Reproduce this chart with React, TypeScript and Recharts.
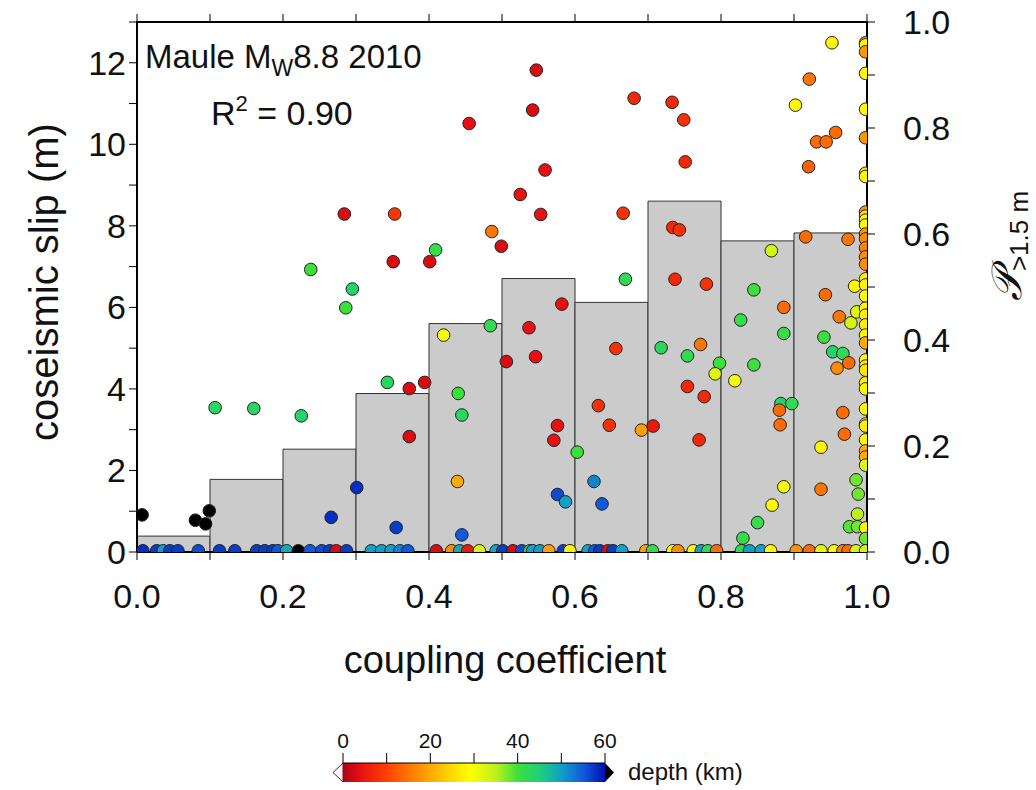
import React from "react"
import { ComposedChart, Bar, Scatter, XAxis, YAxis } from "recharts"

// histogram of P(slip > 1.5 m) per coupling bin (right axis)
const binLabels = ["0.0", "0.1", "0.2", "0.3", "0.4", "0.5", "0.6", "0.7", "0.8", "0.9"]
const binProb = [0.03, 0.137, 0.194, 0.299, 0.431, 0.516, 0.471, 0.662, 0.587, 0.602]

// points with slip > 0
const slipCoupling = [
  0.455, 0.284, 0.353, 0.486, 0.499, 0.409, 0.351, 0.401, 0.238, 0.295, 0.286, 0.107, 0.16, 0.225, 0.343,
  0.373, 0.394, 0.373, 0.42, 0.484, 0.44, 0.445, 0.439, 0.445, 0.506, 0.301, 0.266, 0.355, 0.007, 0.08,
  0.094, 0.099, 0.547, 0.542, 0.681, 0.733, 0.749, 0.751, 0.559, 0.525, 0.553, 0.666, 0.734, 0.743, 0.669,
  0.737, 0.78, 0.869, 0.952, 0.921, 0.902, 0.957, 0.931, 0.944, 0.92, 0.916, 0.974, 0.983, 0.582, 0.537,
  0.546, 0.656, 0.632, 0.647, 0.576, 0.571, 0.603, 0.691, 0.707, 0.576, 0.587, 0.626, 0.637, 0.845, 0.886,
  0.943, 0.827, 0.886, 0.941, 0.962, 0.978, 0.986, 0.718, 0.754, 0.772, 0.798, 0.792, 0.819, 0.845, 0.953,
  0.967, 0.975, 0.959, 0.754, 0.777, 0.77, 0.882, 0.897, 0.88, 0.881, 0.967, 0.969, 0.937, 0.937, 0.886,
  0.87, 0.85, 0.83, 0.985, 0.988, 0.987, 0.976, 0.987,
]
const slipValue = [
  10.51, 8.29, 8.29, 7.86, 7.5, 7.41, 7.12, 7.12, 6.93, 6.45, 5.99, 3.54, 3.52, 3.34, 4.16,
  4.01, 4.16, 2.83, 5.32, 5.55, 3.89, 3.36, 1.73, 0.42, 4.67, 1.58, 0.85, 0.6, 0.91, 0.78,
  0.69, 1.01, 11.82, 10.84, 11.13, 11.03, 10.6, 9.57, 9.37, 8.77, 8.28, 8.31, 7.96, 7.9, 6.69,
  6.69, 6.57, 7.39, 12.49, 11.6, 10.96, 10.29, 10.06, 10.06, 9.45, 7.73, 7.67, 6.52, 6.08, 5.5,
  4.79, 4.99, 3.59, 3.11, 3.1, 2.74, 2.45, 2.99, 3.09, 1.41, 1.23, 1.73, 1.18, 6.43, 6.0,
  6.31, 5.69, 5.36, 5.27, 5.77, 5.62, 5.89, 5.01, 4.81, 5.09, 4.63, 4.37, 4.2, 4.59, 4.91,
  4.87, 4.64, 4.51, 4.06, 3.81, 2.75, 3.64, 3.64, 3.48, 3.12, 3.42, 2.89, 2.57, 1.54, 1.6,
  1.15, 0.72, 0.34, 1.77, 1.42, 0.93, 0.62, 0.62,
]
const slipDepth = [
  4, 3, 9, 15, 3, 41, 3, 3, 40, 44, 40, 43, 43, 44, 43,
  3, 3, 3, 30, 42, 40, 43, 20, 55, 3, 58, 58, 57, 70, 70,
  70, 70, 3, 3, 7, 7, 8, 7, 4, 4, 4, 8, 7, 8, 42,
  7, 8, 33, 28, 15, 28, 14, 14, 14, 13, 14, 15, 28, 4, 4,
  4, 8, 8, 8, 4, 4, 40, 19, 5, 56, 50, 52, 55, 40, 14,
  14, 41, 41, 40, 15, 33, 32, 43, 42, 15, 40, 32, 30, 40, 44,
  42, 14, 17, 7, 7, 7, 44, 42, 14, 14, 14, 14, 28, 15, 30,
  28, 41, 41, 38, 38, 35, 39, 38,
]

// column of points at full coupling
const edgeSlip = [
  12.49, 12.44, 12.27, 11.74, 10.86, 10.16, 9.29, 9.21, 8.34, 8.24, 8.14, 8.02, 7.8, 7.68, 7.46, 7.24, 7.06,
  6.7, 6.55, 6.28, 5.98, 5.81, 5.57, 5.32, 5.13, 4.71, 4.56, 4.46, 4.15, 4.0, 3.51, 3.14, 3.09, 2.75, 2.48,
  2.33, 2.13, 0.59, 0.33,
]
const edgeDepth = [
  20, 28, 18, 28, 28, 18, 26, 28, 18, 26, 28, 29, 18, 17, 16, 17, 17,
  27, 28, 28, 28, 27, 27, 28, 20, 28, 27, 26, 27, 28, 28, 28, 27, 28, 20,
  20, 32, 28, 38,
]

// points with zero slip
const zeroCoupling = [
  0.008, 0.027, 0.036, 0.045, 0.056, 0.084, 0.113, 0.134, 0.164, 0.175, 0.186, 0.193, 0.205, 0.221, 0.237,
  0.253, 0.264, 0.273, 0.287, 0.321, 0.335, 0.348, 0.36, 0.371, 0.41, 0.431, 0.442, 0.453, 0.469, 0.492,
  0.501, 0.515, 0.527, 0.538, 0.542, 0.552, 0.564, 0.584, 0.593, 0.618, 0.627, 0.634, 0.645, 0.652, 0.664,
  0.697, 0.706, 0.734, 0.741, 0.762, 0.773, 0.782, 0.794, 0.828, 0.839, 0.855, 0.868, 0.903, 0.921, 0.937,
  0.955, 0.967, 0.974, 0.985, 0.998,
]
const zeroDepth = [
  58, 57, 50, 57, 57, 56, 57, 57, 57, 57, 57, 55, 49, 70, 55,
  56, 57, 3, 57, 50, 50, 50, 52, 55, 3, 17, 49, 5, 33, 49,
  57, 3, 56, 42, 50, 50, 19, 57, 28, 50, 55, 57, 3, 57, 50,
  19, 42, 28, 17, 28, 50, 42, 14, 42, 50, 50, 28, 18, 14, 32,
  28, 16, 14, 33, 33,
]

const xTicks = [0, 0.1, 0.2, 0.3, 0.4, 0.5, 0.6, 0.7, 0.8, 0.9, 1]
const slipTicks = [0, 1, 2, 3, 4, 5, 6, 7, 8, 9, 10, 11, 12, 13]
const depthTicks = [0, 10, 20, 30, 40, 50, 60]

const font = "'Liberation Sans', Arial, sans-serif"

// plot frame (pixels)
const plotLeft = 137
const plotRight = 867
const plotTop = 22

const colorStops: [number, number[]][] = [
  [0, [176, 0, 24]],
  [4, [232, 16, 16]],
  [10, [255, 64, 0]],
  [17, [255, 140, 0]],
  [23, [255, 200, 0]],
  [29, [255, 255, 0]],
  [35, [190, 240, 30]],
  [40, [60, 224, 60]],
  [45, [30, 208, 120]],
  [50, [16, 160, 200]],
  [55, [16, 90, 220]],
  [60, [0, 16, 176]],
]

function depthColor(d: number) {
  if (d > 60) return "#000"
  for (let i = 1; i < colorStops.length; i++) {
    const [d1, c1] = colorStops[i]
    const [d0, c0] = colorStops[i - 1]
    if (d <= d1) {
      const t = (d - d0) / (d1 - d0)
      const c = c0.map((v, k) => Math.round(v + (c1[k] - v) * t))
      return `rgb(${c[0]},${c[1]},${c[2]})`
    }
  }
  return "#0010b0"
}

const bins = binLabels.map((bin, i) => ({ bin, p: binProb[i] }))
const points = [
  ...slipCoupling.map((c, i) => ({ c, slip: slipValue[i], depth: slipDepth[i] })),
  ...edgeSlip.map((slip, i) => ({ c: 0.998, slip, depth: edgeDepth[i] })),
  ...zeroCoupling.map((c, i) => ({ c, slip: 0.03, depth: zeroDepth[i] })),
]

function Dot(props: any) {
  const { cx, cy, payload } = props
  return <circle cx={cx} cy={cy} r={6.3} fill={depthColor(payload.depth)} stroke="#222" strokeWidth={1} />
}

function XTick({ x, y, payload }: any) {
  const v = payload.value
  if (Math.round(v * 10) % 2 !== 0) return <g />
  return (
    <text x={x} y={y + 46} textAnchor="middle" fontSize={34} fontFamily={font} fill="#111">
      {v.toFixed(1)}
    </text>
  )
}

function SlipTick({ x, y, payload }: any) {
  const v = payload.value
  if (v % 2 !== 0) return <g />
  return (
    <text x={x - 1} y={y + 12} textAnchor="end" fontSize={34} fontFamily={font} fill="#111">
      {v}
    </text>
  )
}

function ProbTick({ x, y, payload }: any) {
  const v = payload.value
  if (Math.round(v * 10) % 2 !== 0) return <g />
  return (
    <text x={x + 26} y={y + 12} textAnchor="start" fontSize={34} fontFamily={font} fill="#111">
      {v.toFixed(1)}
    </text>
  )
}

const axisLine = { stroke: "#000", strokeWidth: 2 }
const tickLine = { stroke: "#000", strokeWidth: 1 }

function Overlay() {
  const cbX0 = 343
  const cbX1 = 605
  const cbScale = (d: number) => cbX0 + ((cbX1 - cbX0) * d) / 60
  const topX = (t: number) => plotLeft + (plotRight - plotLeft) * t
  return (
    <svg width={1036} height={790} style={{ position: "absolute", left: 0, top: 0, pointerEvents: "none" }}>
      <defs>
        <linearGradient id="depthGrad" x1="0" x2="1" y1="0" y2="0">
          {colorStops.map(([d, c]) => (
            <stop key={d} offset={d / 60} stopColor={`rgb(${c[0]},${c[1]},${c[2]})`} />
          ))}
        </linearGradient>
      </defs>
      {/* top frame with outward ticks */}
      <line x1={plotLeft - 1} x2={plotRight + 1} y1={plotTop} y2={plotTop} stroke="#000" strokeWidth={2} />
      {xTicks.map((t) => (
        <line key={t} x1={topX(t)} x2={topX(t)} y1={plotTop - 8} y2={plotTop} stroke="#000" strokeWidth={1} />
      ))}
      <g fontFamily={font} fill="#111">
        <text x={145} y={68} fontSize={33}>
          Maule M<tspan fontSize={23} dy={8}>W</tspan>
          <tspan dy={-8}>8.8 2010</tspan>
        </text>
        <text x={211} y={125} fontSize={34}>
          R<tspan fontSize={22} dy={-14}>2</tspan>
          <tspan dy={14}> = 0.90</tspan>
        </text>
        <text x={505} y={673} fontSize={38} textAnchor="middle">
          coupling coefficient
        </text>
        <text transform="translate(58,282) rotate(-90)" fontSize={40} textAnchor="middle">
          coseismic slip (m)
        </text>
        <text transform="translate(1021,246) rotate(-90)" textAnchor="middle">
          <tspan fontSize={42} fontStyle="italic" fontFamily="'DejaVu Serif', serif">
            𝒫
          </tspan>
          <tspan fontSize={26} dy={7}>
            {">1.5 m"}
          </tspan>
        </text>
      </g>
      {/* depth colour bar */}
      <rect x={cbX0} y={763} width={cbX1 - cbX0} height={19} fill="url(#depthGrad)" />
      <polygon points={`333,772.5 ${cbX0},763 ${cbX0},782`} fill="#fff" stroke="#900" strokeWidth={1} />
      <polygon points={`${cbX1},763 614,772.5 ${cbX1},782`} fill="#000" />
      {depthTicks.map((d) => (
        <line key={d} x1={cbScale(d)} x2={cbScale(d)} y1={753} y2={763} stroke="#000" strokeWidth={1} />
      ))}
      <line x1={cbX0} x2={cbX1} y1={763} y2={763} stroke="#000" strokeWidth={1} />
      {depthTicks
        .filter((d) => d % 20 === 0)
        .map((d) => (
          <text key={d} x={cbScale(d)} y={748} fontSize={21} fontFamily={font} textAnchor="middle" fill="#111">
            {d}
          </text>
        ))}
      <text x={628} y={780} fontSize={24} fontFamily={font} fill="#111">
        depth (km)
      </text>
    </svg>
  )
}

export default function App() {
  return (
    <div style={{ position: "absolute", left: 0, top: 0, width: 1036, height: 790, background: "#fff" }}>
      <ComposedChart
        width={1036}
        height={790}
        data={bins}
        barCategoryGap={0}
        barGap={0}
        margin={{ top: plotTop, right: 0, bottom: 0, left: 0 }}
      >
        <XAxis
          xAxisId="x"
          dataKey="c"
          type="number"
          domain={[0, 1]}
          ticks={xTicks}
          tick={<XTick />}
          tickSize={8}
          height={238}
          axisLine={axisLine}
          tickLine={tickLine}
          allowDataOverflow
        />
        <XAxis xAxisId="bins" dataKey="bin" type="category" hide height={0} />
        <YAxis
          yAxisId="slip"
          dataKey="slip"
          type="number"
          domain={[0, 13]}
          ticks={slipTicks}
          tick={<SlipTick />}
          tickSize={8}
          width={plotLeft}
          axisLine={axisLine}
          tickLine={tickLine}
          allowDataOverflow
        />
        <YAxis
          yAxisId="p"
          orientation="right"
          type="number"
          domain={[0, 1]}
          ticks={xTicks}
          tick={<ProbTick />}
          tickSize={8}
          width={1036 - plotRight}
          axisLine={axisLine}
          tickLine={tickLine}
          allowDataOverflow
        />
        <Bar
          xAxisId="bins"
          yAxisId="p"
          dataKey="p"
          fill="#cbcbcb"
          stroke="#333"
          strokeWidth={1}
          isAnimationActive={false}
        />
        <Scatter
          xAxisId="x"
          yAxisId="slip"
          data={points}
          dataKey="slip"
          shape={<Dot />}
          isAnimationActive={false}
        />
      </ComposedChart>
      <Overlay />
    </div>
  )
}
